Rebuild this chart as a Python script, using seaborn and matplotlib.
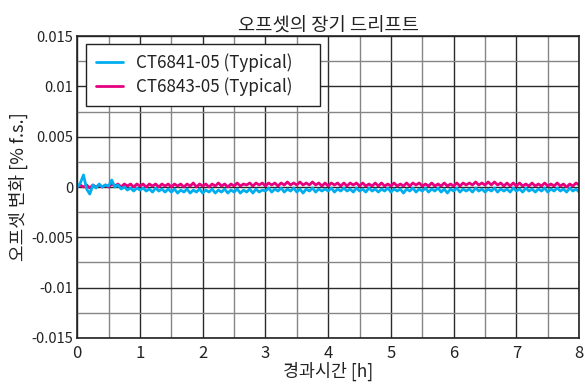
import numpy as np
import pandas as pd
import matplotlib
matplotlib.use("Agg")
import matplotlib.pyplot as plt
import seaborn as sns
from matplotlib.ticker import MultipleLocator, FixedLocator
from matplotlib.lines import Line2D

series_names = ["CT6841-05 (Typical)", "CT6843-05 (Typical)"]
colors = ["#00AEEF", "#E6007E"]
x_ticks = [0, 1, 2, 3, 4, 5, 6, 7, 8]
y_ticks = [-0.015, -0.01, -0.005, 0, 0.005, 0.01, 0.015]
y_tick_labels = ["-0.015", "-0.01", "-0.005", "0", "0.005", "0.01", "0.015"]

time_h = np.round(np.arange(161) * 0.05, 2)

ct6841 = [
    0.0000, 0.0004, 0.0012, -0.0002, -0.0007, 0.0002, -0.0001, 0.0003, 0.0000, 0.0002,
    0.0001, 0.0007, 0.0000, 0.0002, -0.0002, 0.0000, -0.0003, -0.0001, -0.0004, -0.0001,
    -0.0003, -0.0001, -0.0004, -0.0002, -0.0005, -0.0001, -0.0004, -0.0002, -0.0005, -0.0002,
    -0.0005, -0.0002, -0.0006, -0.0003, -0.0005, -0.0002, -0.0006, -0.0003, -0.0005, -0.0002,
    -0.0006, -0.0003, -0.0005, -0.0002, -0.0006, -0.0003, -0.0005, -0.0002, -0.0006, -0.0003,
    -0.0005, -0.0002, -0.0006, -0.0003, -0.0005, -0.0002, -0.0006, -0.0002, -0.0005, -0.0003,
    -0.0004, -0.0001, -0.0005, -0.0002, -0.0004, -0.0001, -0.0005, -0.0002, -0.0004, -0.0001,
    -0.0005, -0.0002, -0.0006, -0.0002, -0.0004, -0.0001, -0.0005, -0.0002, -0.0004, -0.0002,
    -0.0004, -0.0001, -0.0005, -0.0002, -0.0004, -0.0001, -0.0004, -0.0002, -0.0005, -0.0001,
    -0.0004, -0.0002, -0.0005, -0.0001, -0.0004, -0.0002, -0.0005, -0.0002, -0.0004, -0.0001,
    -0.0005, -0.0002, -0.0004, -0.0002, -0.0006, -0.0002, -0.0004, -0.0001, -0.0005, -0.0002,
    -0.0004, -0.0001, -0.0005, -0.0002, -0.0004, -0.0001, -0.0005, -0.0002, -0.0006, -0.0002,
    -0.0004, -0.0001, -0.0005, -0.0002, -0.0004, -0.0002, -0.0005, -0.0001, -0.0004, -0.0002,
    -0.0005, -0.0002, -0.0004, -0.0001, -0.0005, -0.0002, -0.0004, -0.0002, -0.0005, -0.0001,
    -0.0004, -0.0002, -0.0005, -0.0001, -0.0004, -0.0002, -0.0005, -0.0002, -0.0004, -0.0001,
    -0.0005, -0.0002, -0.0004, -0.0001, -0.0004, -0.0002, -0.0005, -0.0001, -0.0004, -0.0002,
    -0.0005,
]

ct6843 = [
    0.0000, 0.0002, 0.0000, 0.0002, -0.0001, 0.0002, 0.0000, 0.0002, 0.0000, 0.0002,
    0.0000, 0.0003, 0.0001, 0.0003, 0.0000, 0.0003, 0.0001, 0.0003, 0.0000, 0.0003,
    0.0001, 0.0003, 0.0000, 0.0003, 0.0001, 0.0003, 0.0000, 0.0003, 0.0001, 0.0003,
    0.0000, 0.0003, 0.0001, 0.0003, 0.0000, 0.0003, 0.0001, 0.0004, 0.0000, 0.0003,
    0.0001, 0.0003, 0.0000, 0.0003, 0.0001, 0.0004, 0.0001, 0.0003, 0.0000, 0.0003,
    0.0001, 0.0004, 0.0001, 0.0003, 0.0002, 0.0004, 0.0001, 0.0004, 0.0002, 0.0004,
    0.0001, 0.0004, 0.0002, 0.0004, 0.0001, 0.0004, 0.0002, 0.0005, 0.0002, 0.0004,
    0.0002, 0.0005, 0.0002, 0.0004, 0.0002, 0.0005, 0.0002, 0.0004, 0.0001, 0.0004,
    0.0001, 0.0004, 0.0002, 0.0004, 0.0001, 0.0004, 0.0001, 0.0004, 0.0002, 0.0004,
    0.0001, 0.0004, 0.0001, 0.0003, 0.0001, 0.0004, 0.0001, 0.0004, 0.0001, 0.0003,
    0.0001, 0.0004, 0.0001, 0.0003, 0.0001, 0.0004, 0.0001, 0.0004, 0.0002, 0.0004,
    0.0001, 0.0003, 0.0001, 0.0004, 0.0001, 0.0003, 0.0001, 0.0004, 0.0001, 0.0003,
    0.0001, 0.0004, 0.0001, 0.0004, 0.0002, 0.0004, 0.0002, 0.0005, 0.0002, 0.0004,
    0.0002, 0.0005, 0.0002, 0.0005, 0.0002, 0.0004, 0.0001, 0.0004, 0.0001, 0.0004,
    0.0001, 0.0004, 0.0001, 0.0003, 0.0001, 0.0004, 0.0001, 0.0003, 0.0001, 0.0004,
    0.0001, 0.0003, 0.0001, 0.0004, 0.0001, 0.0003, 0.0000, 0.0003, 0.0001, 0.0004,
    0.0002,
]

df = pd.DataFrame({
    "t": np.concatenate([time_h, time_h]),
    "v": np.array(ct6843 + ct6841),
    "s": [series_names[1]] * len(time_h) + [series_names[0]] * len(time_h),
})

sns.set_theme(style="white")
plt.rcParams["font.family"] = ["Noto Sans CJK KR", "DejaVu Sans"]

fig = plt.figure(figsize=(5.85, 3.88), dpi=100)
ax = fig.add_axes([0.132, 0.129, 0.858, 0.778])

sns.lineplot(data=df, x="t", y="v", hue="s",
             hue_order=[series_names[1], series_names[0]],
             palette={series_names[0]: colors[0], series_names[1]: colors[1]},
             linewidth=2.0, ax=ax, legend=False, sort=False)

ax.set_xlim(0, 8)
ax.set_ylim(-0.015, 0.015)
ax.xaxis.set_major_locator(FixedLocator(x_ticks))
ax.xaxis.set_minor_locator(MultipleLocator(0.5))
ax.yaxis.set_major_locator(FixedLocator(y_ticks))
ax.yaxis.set_minor_locator(MultipleLocator(0.0025))
ax.set_yticklabels(y_tick_labels)
ax.grid(which="major", color="#2a2a2a", linewidth=1.0)
ax.grid(which="minor", color="#858585", linewidth=1.0)
ax.set_axisbelow(True)
ax.tick_params(axis="both", which="both", length=0)
ax.tick_params(axis="x", labelsize=12, pad=5, colors="#222222")
ax.tick_params(axis="y", labelsize=10.5, pad=3, colors="#222222")
for sp in ax.spines.values():
    sp.set_color("#222222")
    sp.set_linewidth(1.2)

ax.set_xlabel("경과시간 [h]", fontsize=12.5, labelpad=0, color="#222222")
ax.set_ylabel("오프셋 변화 [% f.s.]", fontsize=13, labelpad=2, color="#222222")
ax.set_title("오프셋의 장기 드리프트", fontsize=13.5, pad=3, color="#222222")

handles = [Line2D([], [], color=colors[0], linewidth=2),
           Line2D([], [], color=colors[1], linewidth=2)]
leg = ax.legend(handles, series_names, loc="upper left",
                bbox_to_anchor=(0.018, 0.0, 0.466, 0.975), mode="expand",
                fontsize=12.3,
                frameon=True, fancybox=False, framealpha=1,
                edgecolor="#222222", borderpad=0.55, handlelength=1.6,
                handletextpad=0.75, labelspacing=0.35, borderaxespad=0)
leg.get_frame().set_linewidth(1.0)
for t in leg.get_texts():
    t.set_color("#222222")

fig.savefig("out.png", dpi=100)
